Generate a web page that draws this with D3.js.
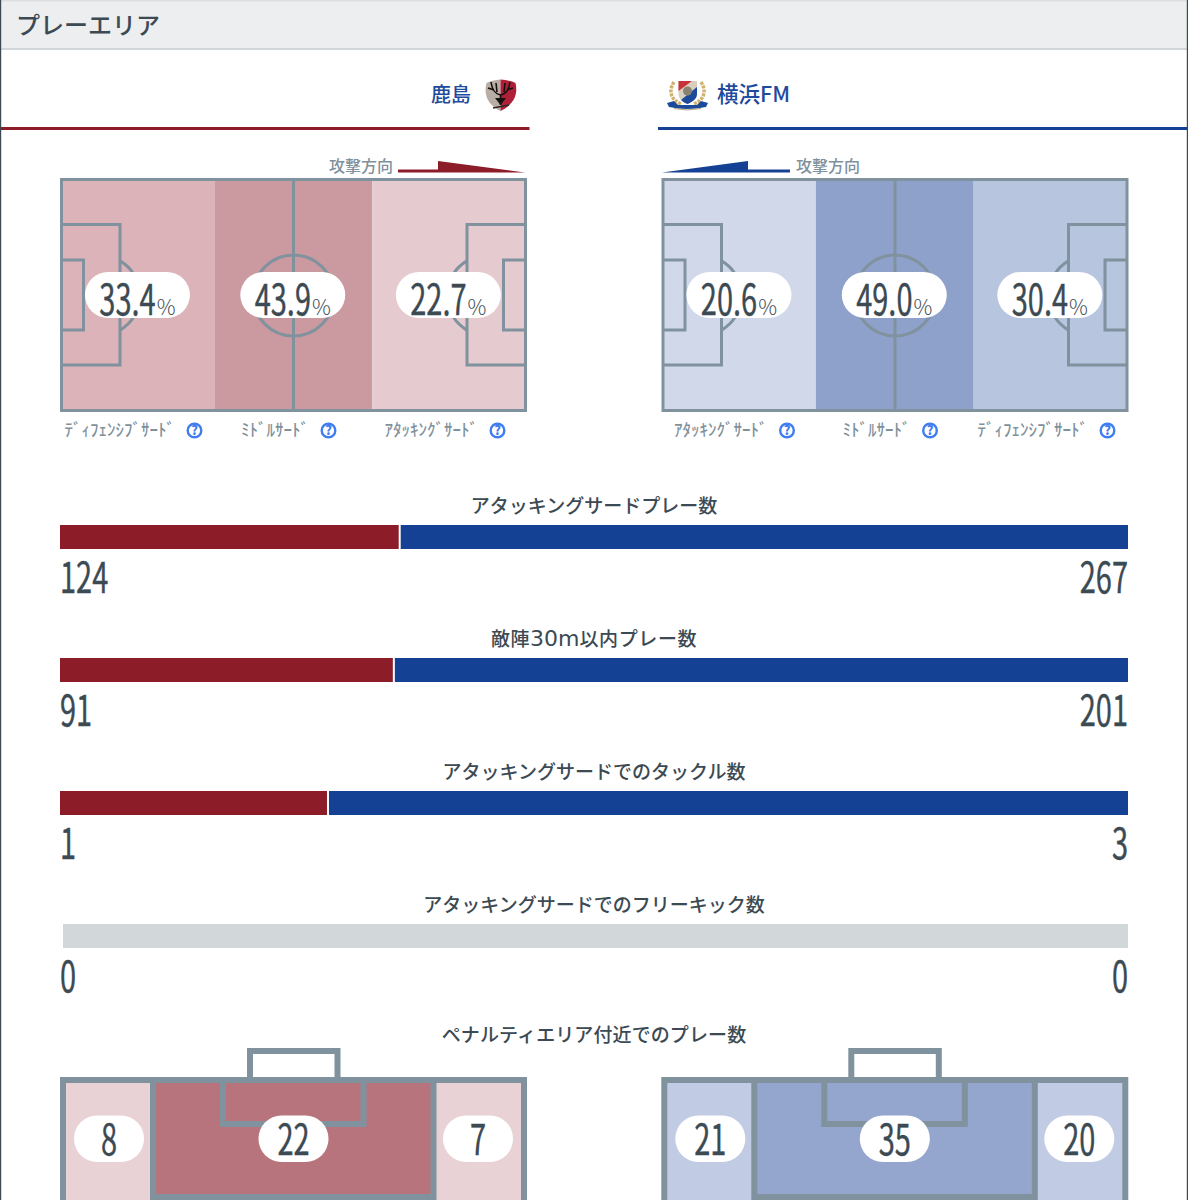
<!DOCTYPE html>
<html lang="ja"><head><meta charset="utf-8">
<script src="https://cdn.jsdelivr.net/npm/d3@7"></script>
<style>html,body{margin:0;padding:0;background:#fff;overflow:hidden}svg{display:block}
text{font-family:"Noto Sans CJK JP","Noto Sans",sans-serif}</style></head><body>
<svg id="c" width="1188" height="1200"></svg>
<script>
const pageTitle = "プレーエリア";
const teams = ["鹿島", "横浜FM"];
const directionLabel = "攻撃方向";
const zoneLabelsHome = ["ﾃﾞｨﾌｪﾝｼﾌﾞｻｰﾄﾞ", "ﾐﾄﾞﾙｻｰﾄﾞ", "ｱﾀｯｷﾝｸﾞｻｰﾄﾞ"];
const zoneLabelsAway = ["ｱﾀｯｷﾝｸﾞｻｰﾄﾞ", "ﾐﾄﾞﾙｻｰﾄﾞ", "ﾃﾞｨﾌｪﾝｼﾌﾞｻｰﾄﾞ"];
const zoneValuesHome = [33.4, 43.9, 22.7];
const zoneValuesAway = [20.6, 49.0, 30.4];
const zoneColorsHome = ["#dbb3b8", "#cb99a0", "#e5cbcf"];
const zoneColorsAway = ["#d1d8ea", "#8ea1ca", "#b7c5df"];
const barTitles = ["アタッキングサードプレー数", "敵陣30m以内プレー数", "アタッキングサードでのタックル数", "アタッキングサードでのフリーキック数"];
const barHome = [124, 91, 1, 0];
const barAway = [267, 201, 3, 0];
const penaltyTitle = "ペナルティエリア付近でのプレー数";
const penaltyHome = [8, 22, 7];
const penaltyAway = [21, 35, 20];

const INK = "#3c4a53", LINE = "#80929e", RED = "#8b1c28", BLUE = "#144194", MUTED = "#7f919c";
const svg = d3.select("#c");

function condensed(g, str, x, y, anchor, size = 42, sx = 0.69) {
  const t = g.append("text").attr("font-family", '"Liberation Sans Narrow","Liberation Sans",sans-serif')
    .attr("font-size", size).attr("fill", INK).attr("stroke", INK).attr("stroke-width", 0.4).text(str);
  const w = t.node().getComputedTextLength() * sx;
  const left = anchor === "middle" ? x - w / 2 : anchor === "end" ? x - w : x;
  t.attr("transform", `translate(${left},${y}) scale(${sx},1)`);
  return w;
}

// page frame and header
svg.append("rect").attr("x", 0).attr("y", 0).attr("width", 1188).attr("height", 50).attr("fill", "#eceef0");
svg.append("rect").attr("x", 0).attr("y", 48).attr("width", 1188).attr("height", 2).attr("fill", "#d3d6d8");
svg.append("rect").attr("x", 0).attr("y", 0).attr("width", 1188).attr("height", 1.5).attr("fill", "#dcdfe1");
svg.append("rect").attr("x", 0).attr("y", 0).attr("width", 1.2).attr("height", 1200).attr("fill", "#3c4a53");
svg.append("rect").attr("x", 1186.8).attr("y", 0).attr("width", 1.2).attr("height", 1200).attr("fill", "#3c4a53");
svg.append("text").attr("x", 16).attr("y", 33.5).attr("font-size", 24).attr("font-weight", 500).attr("fill", INK).text(pageTitle);

// team headers
svg.append("rect").attr("x", 1).attr("y", 127).attr("width", 528.5).attr("height", 3).attr("fill", RED);
svg.append("rect").attr("x", 658).attr("y", 127).attr("width", 529).attr("height", 3).attr("fill", BLUE);
svg.append("text").attr("x", 471).attr("y", 102).attr("text-anchor", "end").attr("font-size", 20).attr("font-weight", 500).attr("fill", "#1f4b9e").text(teams[0]);
svg.append("text").attr("x", 717).attr("y", 102).attr("font-size", 21.5).attr("font-weight", 500).attr("fill", "#1f4b9e").text(teams[1]);

// Kashima crest
const k = svg.append("g").attr("transform", "translate(485,79)");
k.append("path").attr("d", "M15.5,0.5 C10,1 5,2 1.5,4 C-1,14 1,25 15.5,32 Z").attr("fill", "#b9aea6");
k.append("path").attr("d", "M15.5,0.5 C21,1 27,2 30.5,4 C33,14 30,25 15.5,32 Z").attr("fill", "#b01f38");
k.append("path").attr("d", "M15.5,26 V15 M15.5,16 C10,15 7,11 6,3 M9,11 L3,9 M12,13 L11,4 M15.5,16 C21,15 24,11 25,3 M22,11 L28,9 M19,13 L20,4")
  .attr("stroke", "#15110f").attr("stroke-width", 1.6).attr("fill", "none");
k.append("path").attr("d", "M10,19 H21 L15.5,26 Z").attr("fill", "#15110f");
k.append("path").attr("d", "M8,29 L24,26").attr("stroke", "#2b2523").attr("stroke-width", 1.6);

// Yokohama crest
const y = svg.append("g").attr("transform", "translate(666,79)");
y.append("path").attr("d", "M8,3 C2,12 5,21 15,25 M35,3 C41,12 38,21 28,25").attr("stroke", "#cfb26f").attr("stroke-width", 3.5).attr("stroke-dasharray", "3 1").attr("fill", "none");
y.append("path").attr("d", "M12.5,2 H31 V15 C31,20 26,23 21.5,25 C17,23 12.5,20 12.5,15 Z").attr("fill", "#d8cfc0");
y.append("path").attr("d", "M12.5,2 H26 L12.5,12 Z").attr("fill", "#c8333a");
y.append("path").attr("d", "M31,8 V15 C31,20 26,23 21.5,25 C19,24 17,23 15,21 Z").attr("fill", "#1c4a9a");
y.append("circle").attr("cx", 21.5).attr("cy", 12).attr("r", 4.5).attr("fill", "#8a8270");
y.append("path").attr("d", "M1,24 L8,22 L12,26 H31 L35,22 L42,24 L40,28 Q21,32 3,28 Z").attr("fill", "#1c4a9a");
y.append("path").attr("d", "M8,29.5 Q21,32.5 35,29.5").attr("stroke", "#b9a578").attr("stroke-width", 1).attr("fill", "none");

// direction arrows
svg.append("text").attr("x", 393).attr("y", 172).attr("text-anchor", "end").attr("font-size", 16).attr("font-weight", 500).attr("fill", MUTED).text(directionLabel);
svg.append("text").attr("x", 796).attr("y", 172).attr("font-size", 16).attr("font-weight", 500).attr("fill", MUTED).text(directionLabel);
const arrow = d3.line();
svg.append("path").attr("d", arrow([[398, 169.5], [438, 169.5], [438, 161], [525, 172.5], [398, 172.5]]) + "Z").attr("fill", RED);
svg.append("path").attr("d", arrow([[790, 169.5], [748, 169.5], [748, 161], [662, 172.5], [790, 172.5]]) + "Z").attr("fill", BLUE);

// pitches
const zoneEdges = [0, 34.6, 70.3, 105];
function pitch(x0, values, colors, labels, iconXs) {
  const g = svg.append("g");
  const x = d3.scaleLinear().domain([0, 105]).range([x0, x0 + 464]);
  const Y0 = 179.5, H = 231, MID = 295.5;
  g.selectAll("rect.z").data(values).join("rect").attr("class", "z")
    .attr("x", (d, i) => x(zoneEdges[i])).attr("y", Y0)
    .attr("width", (d, i) => x(zoneEdges[i + 1]) - x(zoneEdges[i])).attr("height", H)
    .attr("fill", (d, i) => colors[i]);
  const L = g.append("g").attr("fill", "none").attr("stroke", LINE).attr("stroke-width", 3);
  L.append("rect").attr("x", x0).attr("y", Y0).attr("width", 464).attr("height", H);
  const cx = x0 + 232;
  L.append("line").attr("x1", cx).attr("x2", cx).attr("y1", Y0).attr("y2", Y0 + H);
  L.append("circle").attr("cx", cx).attr("cy", MID).attr("r", 40.5);
  [[x0, 1], [x0 + 464, -1]].forEach(([e, s]) => {
    L.append("path").attr("d", d3.line()([[e, 224.5], [e + s * 58.5, 224.5], [e + s * 58.5, 365], [e, 365]]));
    L.append("path").attr("d", d3.line()([[e, 260], [e + s * 22, 260], [e + s * 22, 330], [e, 330]]));
    const a = d3.arc().innerRadius(40).outerRadius(40).startAngle(s * Math.PI / 6).endAngle(s * 5 * Math.PI / 6)();
    L.append("path").attr("transform", `translate(${e + s * 38.5},${MID})`).attr("d", a);
  });
  values.forEach((v, i) => {
    const c = (x(zoneEdges[i]) + x(zoneEdges[i + 1])) / 2 - 0.5;
    g.append("rect").attr("x", c - 52.5).attr("y", 272).attr("width", 105).attr("height", 46).attr("rx", 23).attr("fill", "#fff");
    const str = v.toFixed(1);
    const pct = g.append("text").attr("y", 314.5).attr("font-family", "Roboto").attr("font-weight", 300)
      .attr("font-size", 21).attr("fill", "#46525a").text("%");
    const pw = pct.node().getComputedTextLength();
    const nt = condensed(g, str, -1000, 314.5, "start");
    g.selectAll("text").filter(function () { return this.textContent === str; }).remove();
    const off = (nt + pw + 1) / 2;
    condensed(g, str, c - off, 314.5, "start");
    pct.attr("x", c - off + nt + 1);
    // zone label + help icon
    const ix = iconXs[i];
    g.append("text").attr("x", ix - 19.5).attr("y", 436).attr("text-anchor", "end").attr("font-size", 17).attr("font-weight", 500).attr("fill", MUTED).text(labels[i]);
    g.append("circle").attr("cx", ix).attr("cy", 430.5).attr("r", 6.8).attr("fill", "#fff").attr("stroke", "#3f7df0").attr("stroke-width", 2.4);
    g.append("text").attr("x", ix).attr("y", 435).attr("text-anchor", "middle").attr("font-family", "Roboto").attr("font-weight", 900)
      .attr("font-size", 12.5).attr("fill", "#3f7df0").text("?");
  });
}
pitch(61.5, zoneValuesHome, zoneColorsHome, zoneLabelsHome, [194.5, 328.5, 497.5]);
pitch(663, zoneValuesAway, zoneColorsAway, zoneLabelsAway, [787, 930, 1107.5]);

// comparison bars
const barTop = d3.scaleLinear().domain([0, 3]).range([525, 924]);
barTitles.forEach((title, i) => {
  const a = barHome[i], b = barAway[i], top = barTop(i);
  const g = svg.append("g");
  const t = g.append("text").attr("x", 594).attr("y", top - 12).attr("text-anchor", "middle").attr("font-size", 19).attr("font-weight", 500).attr("fill", INK);
  const hasLatin = /\d+m/.test(title);
  title.split(/(\d+m)/).forEach((part) => {
    const s = t.append("tspan").text(part);
    if (/\d+m/.test(part)) s.attr("font-family", "DejaVu Sans").attr("font-weight", 400).attr("font-size", 22);
    else if (hasLatin) s.attr("letter-spacing", 0.6);
  });
  if (a + b === 0) {
    g.append("rect").attr("x", 63).attr("y", top).attr("width", 1065).attr("height", 24).attr("fill", "#d2d8da");
  } else {
    const x = d3.scaleLinear().domain([0, a + b]).range([60, 1128]);
    g.append("rect").attr("x", x(0)).attr("y", top).attr("width", x(a) - x(0)).attr("height", 24).attr("fill", RED);
    g.append("rect").attr("x", x(a) + 2).attr("y", top).attr("width", x(a + b) - x(a) - 2).attr("height", 24).attr("fill", BLUE);
  }
  condensed(g, String(a), 60, top + 67.5, "start");
  condensed(g, String(b), 1128, top + 67.5, "end");
});

// penalty-area panels
svg.append("text").attr("x", 594).attr("y", 1042).attr("text-anchor", "middle").attr("font-size", 19).attr("font-weight", 500).attr("letter-spacing", 0.1).attr("fill", INK).text(penaltyTitle);
function penalty(x0, values, side, centre) {
  const g = svg.append("g");
  const sw = 6, top = 1080, bottom = 1197;
  const L = { fill: "none", stroke: LINE, "stroke-width": sw };
  const apply = (s) => { Object.entries(L).forEach(([k, v]) => s.attr(k, v)); return s; };
  g.append("rect").attr("x", x0 + 3).attr("y", top).attr("width", 91).attr("height", 130).attr("fill", side);
  g.append("rect").attr("x", x0 + 373).attr("y", top).attr("width", 91).attr("height", 130).attr("fill", side);
  g.append("rect").attr("x", x0 + 93).attr("y", top).attr("width", 280).attr("height", bottom - top).attr("fill", centre);
  apply(g.append("rect")).attr("x", x0 + 3).attr("y", top).attr("width", 461).attr("height", 130);
  apply(g.append("rect")).attr("x", x0 + 93).attr("y", top).attr("width", 280.5).attr("height", bottom - top);
  apply(g.append("path")).attr("d", d3.line()([[x0 + 163, top], [x0 + 163, 1124], [x0 + 303.5, 1124], [x0 + 303.5, top]]));
  apply(g.append("path")).attr("d", d3.line()([[x0 + 190, top], [x0 + 190, 1051], [x0 + 277.5, 1051], [x0 + 277.5, top]]));
  const centres = [x0 + 49, x0 + 233.5, x0 + 418];
  values.forEach((v, i) => {
    g.append("rect").attr("x", centres[i] - 35).attr("y", 1115.5).attr("width", 70).attr("height", 46.5).attr("rx", 23).attr("fill", "#fff");
    condensed(g, String(v), centres[i], 1155, "middle");
  });
}
penalty(60, penaltyHome, "#e8d2d5", "#b8747c");
penalty(661.3, penaltyAway, "#c1cce4", "#94a6cd");
</script></body></html>
